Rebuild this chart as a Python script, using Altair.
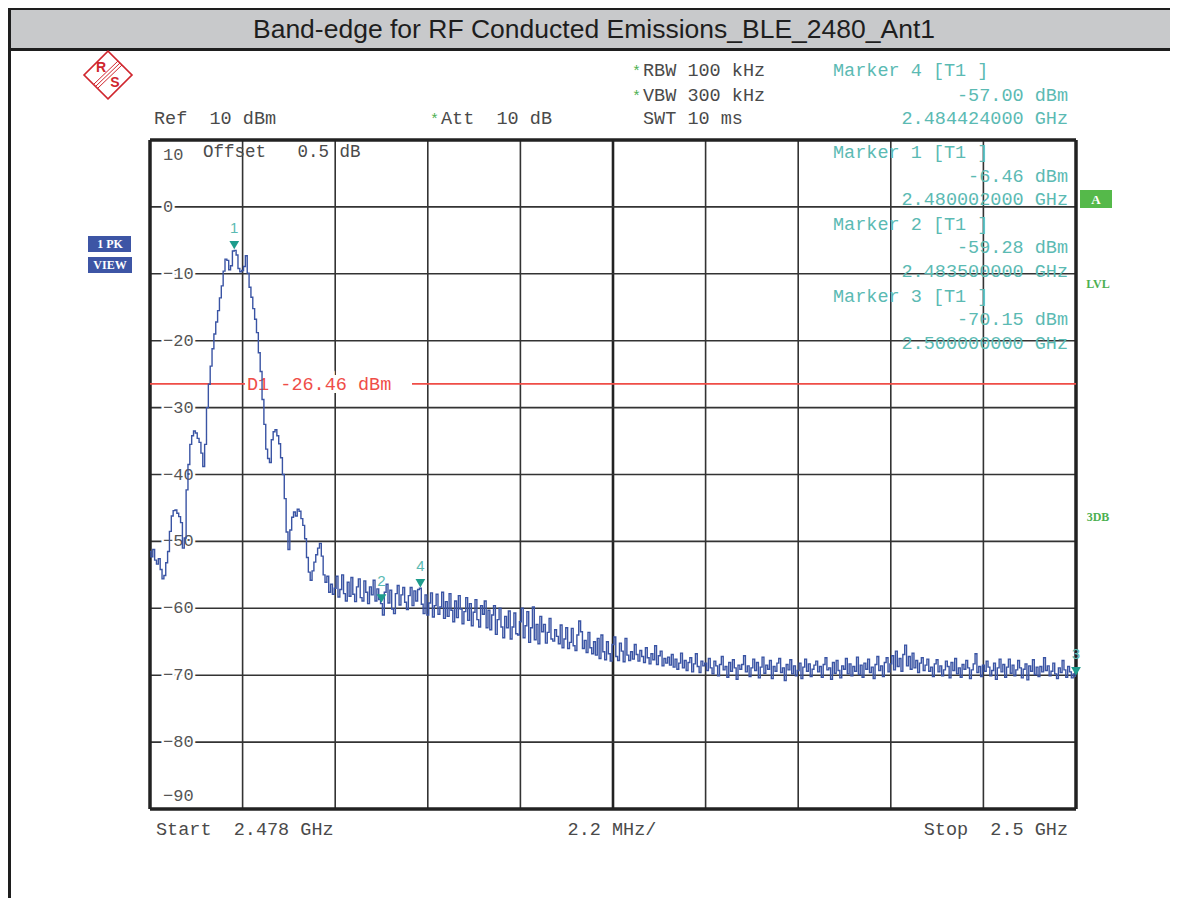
import altair as alt
import pandas as pd

# ---------------- data ----------------
START_GHZ = 2.478
STOP_GHZ = 2.5
N_POINTS = 501
freq_ghz = [round(START_GHZ + i * (STOP_GHZ - START_GHZ) / (N_POINTS - 1), 7) for i in range(N_POINTS)]

level_dbm = [
    # 0-19
    -51.5, -52.3, -51.2, -52.8, -53.4, -52.6, -54.2, -55.6, -55.1, -53.2, -51.5, -48.5, -46.2, -45.4, -45.3, -45.8, -46.3, -47.2, -51.0, -49.5,
    # 20-39
    -42.3, -38.5, -35.5, -34.2, -33.5, -33.8, -34.6, -35.2, -36.8, -38.8, -35.5, -30.0, -26.5, -23.8, -21.2, -19.0, -17.2, -15.5, -13.6, -11.8,
    # 40-59
    -9.6, -7.8, -8.0, -9.4, -8.8, -6.6, -6.5, -7.2, -9.2, -9.7, -9.5, -8.9, -7.3, -9.9, -12.0, -13.5, -15.2, -16.8, -18.8, -21.8,
    # 60-79
    -24.6, -28.8, -32.5, -36.2, -37.6, -38.2, -34.8, -33.6, -33.3, -34.2, -35.4, -37.5, -40.0, -43.6, -48.6, -51.2, -48.3, -46.4, -45.6, -46.2,
    # 80-99
    -45.2, -45.5, -46.6, -47.6, -49.6, -52.4, -54.6, -55.8, -54.4, -53.1, -52.0, -51.0, -50.3, -52.2, -55.0, -56.1, -55.2, -57.6, -56.4, -57.9,
    # 100-119
    -57.0, -55.2, -58.3, -57.2, -55.0, -57.8, -58.9, -56.1, -58.2, -55.4, -57.9, -59.0, -56.8, -55.6, -58.4, -58.9, -55.9, -57.6, -59.3, -56.8,
    # 120-139
    -58.0, -55.8, -58.9, -57.1, -58.7, -59.3, -61.0, -57.6, -56.4, -59.2, -57.3, -60.1, -60.8, -57.8, -56.6, -59.5, -58.0, -56.9, -59.1, -60.2,
    # 140-159
    -58.1, -56.9, -59.6, -57.4, -58.9, -57.2, -57.0, -59.4, -60.8, -58.0, -61.0, -59.2, -57.7, -61.3, -59.6, -57.9, -60.9, -59.8, -57.6, -61.5,
    # 160-179
    -59.0, -61.2, -57.8, -60.3, -62.0, -58.9, -61.4, -58.1, -60.1, -62.3, -60.5, -58.4, -61.8, -59.3, -62.6, -60.6, -58.7, -61.7, -62.8, -59.6,
    # 180-199
    -60.9, -58.9, -62.9, -60.3, -63.2, -61.0, -59.6, -63.9, -61.7, -60.0, -62.8, -64.4, -61.2, -62.9, -60.4, -64.6, -62.8, -60.7, -63.8, -64.0,
    # 200-219
    -62.0, -60.0, -64.4, -62.6, -60.5, -65.1, -62.9, -59.8, -64.7, -62.4, -65.3, -61.2, -63.5, -62.4, -65.2, -63.6, -61.5, -64.6, -64.9, -63.2,
    # 220-239
    -64.2, -65.3, -62.5, -65.9, -64.6, -62.9, -66.0, -65.1, -63.0, -65.6, -66.3, -64.0, -61.9, -63.5, -66.0, -64.8, -66.6, -63.6, -65.9, -66.8,
    # 240-259
    -65.0, -67.0, -64.5, -67.5, -64.0, -66.5, -67.7, -65.0, -66.8, -67.9, -65.4, -64.3, -67.2, -67.8, -65.2, -66.4, -68.0, -64.5, -67.0, -67.8,
    # 260-279
    -66.5, -67.6, -65.4, -66.9, -67.9, -66.3, -67.2, -68.1, -65.9, -67.4, -68.3, -66.8, -67.7, -65.6, -68.4, -67.1, -66.4, -68.6, -67.5, -68.2,
    # 280-299
    -67.3, -68.5, -66.9, -68.8, -67.6, -69.1, -68.2, -66.7, -68.9, -67.8, -69.3, -68.1, -67.4, -69.5, -68.3, -66.8, -68.7, -69.6, -67.9, -68.6,
    # 300-319
    -68.2, -69.3, -67.5, -68.9, -69.8, -67.9, -68.6, -70.1, -68.4, -67.2, -69.2, -68.7, -70.3, -68.1, -69.4, -67.7, -68.9, -70.6, -68.5, -69.1,
    # 320-339
    -68.4, -67.1, -69.5, -68.6, -70.2, -68.9, -67.6, -69.3, -68.1, -70.4, -68.8, -67.3, -69.7, -68.5, -69.1, -67.8, -70.5, -68.7, -69.4, -68.2,
    # 340-359
    -67.5, -69.6, -68.9, -70.8, -68.4, -69.2, -67.7, -69.8, -68.6, -70.1, -69.3, -68.2, -70.5, -68.8, -67.6, -69.4, -68.3, -70.2, -69.1, -68.5,
    # 360-379
    -67.9, -69.5, -68.7, -70.3, -68.4, -67.4, -69.2, -68.9, -70.6, -68.1, -69.7, -67.8, -69.3, -70.4, -68.6, -69.1, -67.5, -69.8, -68.3, -70.1,
    # 380-399
    -68.7, -69.4, -67.3, -69.9, -68.5, -70.3, -68.2, -69.1, -67.6, -69.6, -68.8, -70.5, -68.4, -67.2, -69.3, -68.6, -70.2, -68.1, -67.4, -69.5,
    # 400-419
    -68.3, -67.1, -69.2, -66.4, -68.7, -67.5, -69.4, -66.9, -65.5, -68.6, -67.2, -69.1, -66.7, -68.9, -67.8, -69.6, -68.2, -67.4, -69.3, -68.5,
    # 420-439
    -67.6, -69.4, -68.8, -70.2, -68.3, -67.7, -69.5, -68.6, -70.1, -69.2, -67.9, -68.7, -70.4, -68.1, -69.3, -67.5, -69.8, -68.9, -70.3, -68.4,
    # 440-459
    -69.1, -67.8, -68.9, -70.5, -69.2, -68.3, -66.8, -69.6, -68.7, -70.2, -68.5, -69.4, -67.9, -68.8, -70.1, -69.3, -68.2, -70.6, -68.9, -67.6,
    # 460-479
    -69.5, -68.4, -70.3, -68.8, -67.6, -69.7, -68.5, -70.1, -69.2, -67.8, -68.9, -70.4, -69.1, -68.3, -70.7, -68.6, -69.4, -67.7, -69.9, -68.8,
    # 480-499
    -70.2, -68.7, -69.5, -67.4, -69.3, -68.6, -70.1, -69.4, -68.2, -69.8, -70.5, -68.9, -69.6, -67.8, -69.2, -70.3, -68.7, -69.5, -70.4, -69.8,
    # 500
    -70.15,
]

marker_ids = ["1", "2", "3", "4"]
marker_freq = [2.480002, 2.4835, 2.5, 2.484424]
marker_level = [-6.46, -59.28, -70.15, -57.00]

display_line_level = -26.46
display_line_label = "D1 -26.46 dBm"

grid_freq = [round(START_GHZ + k * 0.0022, 4) for k in range(11)]
grid_level = [10, 0, -10, -20, -30, -40, -50, -60, -70, -80, -90]
inner_label_levels = [0, -10, -20, -30, -40, -50, -60, -70, -80]
inner_label_text = ["0", "\u221210", "\u221220", "\u221230", "\u221240", "\u221250", "\u221260", "\u221270", "\u221280"]

title_text = "Band-edge for RF Conducted Emissions_BLE_2480_Ant1"
marker_info = [
    ("Marker 4 [T1 ]", "-57.00 dBm", "2.484424000 GHz"),
    ("Marker 1 [T1 ]", "-6.46 dBm", "2.480002000 GHz"),
    ("Marker 2 [T1 ]", "-59.28 dBm", "2.483500000 GHz"),
    ("Marker 3 [T1 ]", "-70.15 dBm", "2.500000000 GHz"),
]

# ---------------- styles ----------------
W, H = 926, 669
MONO = "Liberation Mono"
SANS = "Liberation Sans"
SERIF = "Liberation Serif"
TRACE = "#3a54a4"
TEAL = "#1e9c8c"
TEAL_TXT = "#5bbab3"
RED = "#ef4d47"
GRID = "#333333"
TXT = "#4a4a4a"
GREEN = "#4cb050"
BLUE_BOX = "#3d55a5"
FS = 18.5

xs = alt.Scale(domain=[START_GHZ, STOP_GHZ], nice=False, zero=False)
ys = alt.Scale(domain=[-90, 10], nice=False, zero=False)

one = pd.DataFrame({"k": [0]})


def nb(s):
    return s.replace(" ", "\u00a0")


def T(s, x, y, color=TXT, size=FS, align="left", font=MONO, weight="normal"):
    return alt.Chart(one).mark_text(
        text=nb(s), align=align, baseline="middle", font=font, fontSize=size,
        color=color, fontWeight=weight
    ).encode(x=alt.value(x), y=alt.value(y))


def R(x1, y1, x2, y2, color):
    return alt.Chart(one).mark_rect(color=color).encode(
        x=alt.value(x1), x2=alt.value(x2), y=alt.value(y1), y2=alt.value(y2)
    )


layers = []

# page frame + title bar
layers.append(R(-141, -131, 1020, -91, "#c8c9cb"))
layers.append(R(-142, -132, 1020, -130, "#1e1e1e"))
layers.append(R(-141, -92, 1020, -89, "#1e1e1e"))
layers.append(R(-142, -132, -139, 758, "#1e1e1e"))
layers.append(T(title_text, 444, -110, color="#1e1e1e", size=26.5, align="center", font=SANS))

# grid
df_gx = pd.DataFrame({"f": grid_freq[1:10]})
df_gx = df_gx[df_gx["f"] != grid_freq[5]]
layers.append(alt.Chart(df_gx).mark_rule(color=GRID, strokeWidth=1.6).encode(
    x=alt.X("f:Q", scale=xs, axis=None)))
layers.append(alt.Chart(pd.DataFrame({"f": [grid_freq[5]]})).mark_rule(color="#222222", strokeWidth=2.6).encode(
    x=alt.X("f:Q", scale=xs, axis=None)))
layers.append(alt.Chart(pd.DataFrame({"l": grid_level[1:10]})).mark_rule(color=GRID, strokeWidth=1.6).encode(
    y=alt.Y("l:Q", scale=ys, axis=None)))
# frame
layers.append(alt.Chart(pd.DataFrame({"f": [grid_freq[0], grid_freq[10]]})).mark_rule(color="#222222", strokeWidth=3.5).encode(
    x=alt.X("f:Q", scale=xs, axis=None)))
layers.append(alt.Chart(pd.DataFrame({"l": [grid_level[0], grid_level[10]]})).mark_rule(color="#222222", strokeWidth=3.5).encode(
    y=alt.Y("l:Q", scale=ys, axis=None)))

# inner y labels with white halo
df_lab = pd.DataFrame({"l": inner_label_levels, "t": inner_label_text})
for halo in (True, False):
    kw = dict(stroke="white", strokeWidth=5, color="white") if halo else dict(color="#555555")
    layers.append(alt.Chart(df_lab).mark_text(align="left", baseline="middle", font=MONO, fontSize=17, **kw).encode(
        x=alt.value(13), y=alt.Y("l:Q", scale=ys, axis=None), text="t:N"))
layers.append(alt.Chart(pd.DataFrame({"l": [10], "t": ["10"]})).mark_text(
    align="left", baseline="middle", font=MONO, fontSize=17, color="#555555", dy=15).encode(
    x=alt.value(13), y=alt.Y("l:Q", scale=ys, axis=None), text="t:N"))
layers.append(alt.Chart(pd.DataFrame({"l": [-90], "t": ["\u221290"]})).mark_text(
    align="left", baseline="middle", font=MONO, fontSize=17, color="#555555", dy=-13).encode(
    x=alt.value(13), y=alt.Y("l:Q", scale=ys, axis=None), text="t:N"))
layers.append(T("Offset   0.5 dB", 53, 12, color="#4a4a4a", size=17.5))

# display line D1 (gap around its label)
df_d1 = pd.DataFrame({"l": [display_line_level], "t": [nb(display_line_label)]})
layers.append(alt.Chart(df_d1).mark_rule(color=RED, strokeWidth=1.8).encode(
    x=alt.value(0), x2=alt.value(95), y=alt.Y("l:Q", scale=ys, axis=None)))
layers.append(alt.Chart(df_d1).mark_rule(color=RED, strokeWidth=1.8).encode(
    x=alt.value(262), x2=alt.value(W), y=alt.Y("l:Q", scale=ys, axis=None)))
layers.append(alt.Chart(df_d1).mark_text(align="left", baseline="middle", font=MONO, fontSize=FS,
                                         color="white", stroke="white", strokeWidth=6).encode(
    x=alt.value(97), y=alt.Y("l:Q", scale=ys, axis=None), text="t:N"))
layers.append(alt.Chart(df_d1).mark_text(align="left", baseline="middle", font=MONO, fontSize=FS,
                                         color=RED).encode(
    x=alt.value(97), y=alt.Y("l:Q", scale=ys, axis=None), text="t:N"))

# trace
df_tr = pd.DataFrame({"f": freq_ghz, "l": level_dbm})
layers.append(alt.Chart(df_tr).mark_line(color=TRACE, strokeWidth=1.4, interpolate="step").encode(
    x=alt.X("f:Q", scale=xs, axis=None), y=alt.Y("l:Q", scale=ys, axis=None)))

# markers
df_mk = pd.DataFrame({"id": marker_ids, "f": marker_freq, "l": marker_level})
layers.append(alt.Chart(df_mk).mark_point(shape="triangle-down", filled=True, size=95, color=TEAL, opacity=1, yOffset=-5).encode(
    x=alt.X("f:Q", scale=xs, axis=None), y=alt.Y("l:Q", scale=ys, axis=None)))
layers.append(alt.Chart(df_mk).mark_text(font=SANS, fontSize=15, color=TEAL_TXT, dy=-22, align="center", baseline="middle").encode(
    x=alt.X("f:Q", scale=xs, axis=None), y=alt.Y("l:Q", scale=ys, axis=None), text="id:N"))

# header info
layers.append(T("Ref  10 dBm", 4, -22))
layers.append(T("*", 280, -21, color=GREEN, size=15))
layers.append(T("Att  10 dB", 291, -22))
layers.append(T("*", 482, -69, color=GREEN, size=15))
layers.append(T("RBW 100 kHz", 493, -70))
layers.append(T("*", 482, -44, color=GREEN, size=15))
layers.append(T("VBW 300 kHz", 493, -45))
layers.append(T("SWT 10 ms", 493, -22))

# marker info blocks
y_rows = [-70, -45, -22, 12, 36, 59, 84, 107, 131, 156, 179, 203]
for n, (hdr, val, fr) in enumerate(marker_info):
    y0, y1, y2 = y_rows[3 * n], y_rows[3 * n + 1], y_rows[3 * n + 2]
    layers.append(T(hdr, 683, y0, color=TEAL_TXT))
    layers.append(T(val, 918, y1, color=TEAL_TXT, align="right"))
    layers.append(T(fr, 918, y2, color=TEAL_TXT, align="right"))

# bottom texts
layers.append(T("Start  2.478 GHz", 6, 689))
layers.append(T("2.2 MHz/", 462, 689, align="center"))
layers.append(T("Stop  2.5 GHz", 918, 689, align="right"))

# left status boxes
layers.append(R(-62, 96, -19, 112, BLUE_BOX))
layers.append(T("1 PK", -40, 104, color="white", size=12, align="center", font=SERIF, weight="bold"))
layers.append(R(-62, 117, -18, 133, BLUE_BOX))
layers.append(T("VIEW", -40, 125, color="white", size=12, align="center", font=SERIF, weight="bold"))

# right status
layers.append(R(930, 50, 962, 68, "#55b94a"))
layers.append(T("A", 946, 60, color="white", size=13, align="center", font=SERIF, weight="bold"))
layers.append(T("LVL", 948, 144, color="#4cb050", size=12, align="center", font=SERIF, weight="bold"))
layers.append(T("3DB", 948, 377, color="#4cb050", size=12, align="center", font=SERIF, weight="bold"))

# R&S logo
LOGO_RED = "#d0262e"
layers.append(alt.Chart(one).mark_point(shape="square", angle=45, size=1150, filled=False,
                                        stroke=LOGO_RED, strokeWidth=1.6, opacity=1).encode(
    x=alt.value(-42), y=alt.value(-65)))
for off in (-2, 0, 2):
    layers.append(alt.Chart(one).mark_rule(color=LOGO_RED, strokeWidth=1).encode(
        x=alt.value(-54 + off), y=alt.value(-54 + off), x2=alt.value(-30 + off), y2=alt.value(-77 + off)))
layers.append(T("R", -49, -72, color=LOGO_RED, size=14, align="center", font=SANS, weight="bold"))
layers.append(T("S", -35, -57, color=LOGO_RED, size=14, align="center", font=SANS, weight="bold"))

chart = alt.layer(*layers).properties(
    width=W, height=H,
    padding={"left": 142, "top": 132, "right": 94, "bottom": 89},
    autosize=alt.AutoSizeParams(type="none"),
    background="white",
).configure_view(strokeWidth=0)

chart.save("out.html", embed_options={"renderer": "svg", "actions": False})
